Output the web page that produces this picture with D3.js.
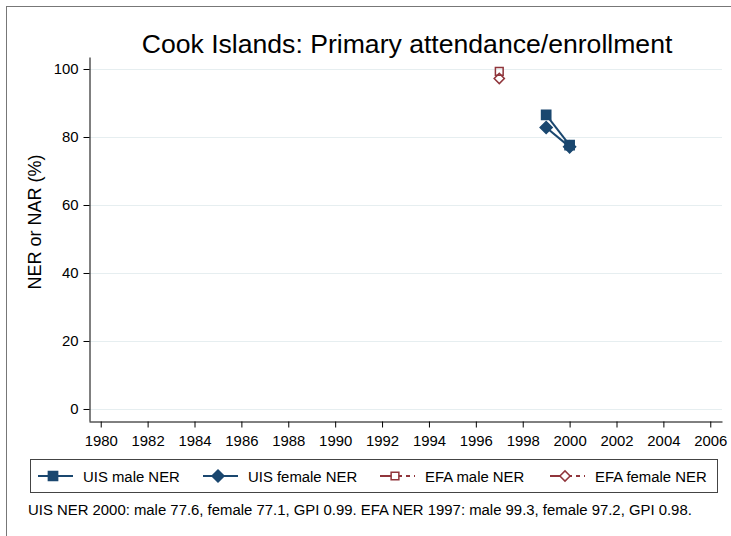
<!DOCTYPE html>
<html>
<head>
  <meta charset="utf-8">
  <title>Cook Islands: Primary attendance/enrollment</title>
  <script src="https://d3js.org/d3.v7.min.js"></script>
  <style>
    body { margin: 0; background: #fff; }
    svg text { font-family: Arial, "Liberation Sans", Helvetica, sans-serif; fill: #000; }
  </style>
</head>
<body>
<svg id="chart" width="731" height="536"></svg>
<script>
  // data
  var years = [1980, 1982, 1984, 1986, 1988, 1990, 1992, 1994, 1996, 1998, 2000, 2002, 2004, 2006];
  var yTicks = [0, 20, 40, 60, 80, 100];
  var uisMale = [[1999, 86.5], [2000, 77.6]];
  var uisFemale = [[1999, 82.8], [2000, 77.1]];
  var efaMale = [[1997, 99.3]];
  var efaFemale = [[1997, 97.2]];
  var legendLabels = ["UIS male NER", "UIS female NER", "EFA male NER", "EFA female NER"];
  var note = "UIS NER 2000: male 77.6, female 77.1, GPI 0.99. EFA NER 1997: male 99.3, female 97.2, GPI 0.98.";

  var blue = "#1a476f", red = "#90353b";
  var fs = "14.9px";
  var svg = d3.select("#chart");

  // outer frame (runs off the right/bottom edge like the original)
  svg.append("rect").attr("x", 6.5).attr("y", 6.5).attr("width", 800).attr("height", 600)
    .attr("fill", "none").attr("stroke", "#777");

  var x = d3.scaleLinear().domain([1979.5, 2006.5]).range([89, 722]);
  var y = d3.scaleLinear().domain([-3.53, 103.53]).range([421, 57]);

  // gridlines
  svg.selectAll(".grid").data(yTicks).enter().append("line")
    .attr("x1", 89).attr("x2", 722)
    .attr("y1", function(d) { return Math.round(y(d)) + 0.5; })
    .attr("y2", function(d) { return Math.round(y(d)) + 0.5; })
    .attr("stroke", "#e6eef0").attr("stroke-width", 1.2);

  // axes
  var yAxis = svg.append("g").attr("transform", "translate(89.5,0)")
    .call(d3.axisLeft(y).tickValues(yTicks).tickSize(6).tickSizeOuter(0).tickPadding(5));
  var xAxis = svg.append("g").attr("transform", "translate(0,421.5)")
    .call(d3.axisBottom(x).tickValues(years).tickFormat(d3.format("d")).tickSize(6).tickSizeOuter(0).tickPadding(8));
  [xAxis, yAxis].forEach(function(a) {
    a.selectAll("text").style("font-size", fs);
    a.select(".domain").attr("stroke", "#000");
    a.selectAll(".tick line").attr("stroke", "#000");
  });

  // titles
  svg.append("text").attr("x", 407).attr("y", 53).attr("text-anchor", "middle")
    .style("font-size", "26.6px").text("Cook Islands: Primary attendance/enrollment");
  svg.append("text").attr("transform", "translate(41,222) rotate(-90)").attr("text-anchor", "middle")
    .style("font-size", "18px").text("NER or NAR (%)");

  // series
  var line = d3.line().x(function(d) { return x(d[0]); }).y(function(d) { return y(d[1]); });
  var sq = d3.symbol().type(d3.symbolSquare).size(85);
  var dm = d3.symbol().type(d3.symbolSquare).size(72);   // rotated 45deg below
  var hsq = d3.symbol().type(d3.symbolSquare).size(60);
  var hdm = d3.symbol().type(d3.symbolSquare).size(52);

  svg.append("path").datum(uisMale).attr("d", line).attr("fill", "none").attr("stroke", blue).attr("stroke-width", 2);
  svg.append("path").datum(uisFemale).attr("d", line).attr("fill", "none").attr("stroke", blue).attr("stroke-width", 2);

  function markers(data, sym, rot, fill, stroke) {
    svg.append("g").selectAll("path").data(data).enter().append("path")
      .attr("d", sym)
      .attr("transform", function(d) { return "translate(" + x(d[0]) + "," + y(d[1]) + ") rotate(" + rot + ")"; })
      .attr("fill", fill).attr("stroke", stroke).attr("stroke-width", 1.5);
  }
  markers(uisMale, sq, 0, blue, blue);
  markers(uisFemale, dm, 45, blue, blue);
  markers(efaMale, hsq, 0, "none", red);
  markers(efaFemale, hdm, 45, "none", red);

  // legend
  svg.append("rect").attr("x", 30.5).attr("y", 459.5).attr("width", 687).attr("height", 33)
    .attr("fill", "#fff").attr("stroke", "#444");
  var legendX = [38, 203, 380, 550];
  var legendSyms = [[sq, 0, blue, blue, null], [dm, 45, blue, blue, null],
                    [hsq, 0, "#fff", red, "22,4,4,4,1.5"], [hdm, 45, "#fff", red, "22,4,4,4,1.5"]];
  var ly = 476;
  legendLabels.forEach(function(lab, i) {
    var lx = legendX[i], s = legendSyms[i];
    svg.append("line").attr("x1", lx).attr("x2", lx + 35).attr("y1", ly).attr("y2", ly)
      .attr("stroke", s[3]).attr("stroke-width", 2).attr("stroke-dasharray", s[4]);
    svg.append("path").attr("d", s[0])
      .attr("transform", "translate(" + (lx + 15) + "," + ly + ") rotate(" + s[1] + ")")
      .attr("fill", s[2]).attr("stroke", s[3]).attr("stroke-width", 1.5);
    svg.append("text").attr("x", lx + 45).attr("y", ly + 5.5).style("font-size", fs).text(lab);
  });

  svg.append("text").attr("x", 28).attr("y", 515).style("font-size", fs).text(note);
</script>
</body>
</html>
